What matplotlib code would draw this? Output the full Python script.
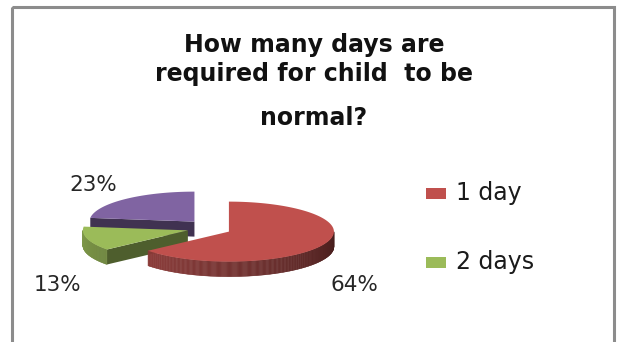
import numpy as np
import matplotlib
matplotlib.use("Agg")
import matplotlib.pyplot as plt
from matplotlib.patches import Polygon, Rectangle

# Chart data
categories = ["1 day", "2 days", "3 days"]
shares = [64, 13, 23]
pct_labels = ["64%", "13%", "23%"]
title_lines = ["How many days are", "required for child  to be", "normal?"]

# Colours (Excel 2007 palette)
top_colors = ["#C0504D", "#9BBB59", "#8064A2"]

# Layout of the fake 3D pie, in pixels
cx, cy = 209, 228
rx, ry = 105, 30
depth = 15
explode_x, explode_y = 22, 8.5
label_pos = [(354, 285), (58, 285), (93, 185)]

fig = plt.figure(figsize=(6.22, 3.42), dpi=100)
ax = fig.add_axes([0, 0, 1, 1])
ax.set_xlim(0, 622)
ax.set_ylim(342, 0)
ax.axis("off")

# chart frame
ax.add_patch(Rectangle((12, 7), 602, 345, fill=False, edgecolor="#8c8c8c",
                       linewidth=2.2))


def shade(color, f):
    r, g, b = matplotlib.colors.to_rgb(color)
    return (r * f, g * f, b * f)


def rim(ax_x, ax_y, t, dz=0.0):
    t = np.radians(t)
    return ax_x + rx * np.cos(t), ax_y - ry * np.sin(t) + dz


# work out slice angles (start at 12 o'clock, go clockwise)
total = float(sum(shares))
slices = []
start = 90.0
for i, v in enumerate(shares):
    sweep = v / total * 360.0
    hi, lo = start, start - sweep
    mid = np.radians((hi + lo) / 2)
    px = cx + explode_x * np.cos(mid)
    py = cy - explode_y * np.sin(mid)
    slices.append((i, lo, hi, px, py, np.sin(mid)))
    start = lo

# back slices first
slices.sort(key=lambda s: -s[5])

for i, lo, hi, px, py, _ in slices:
    col = top_colors[i]
    # visible cut faces
    for t, normal in ((lo, lo - 90), (hi, hi + 90)):
        if np.sin(np.radians(normal)) < -1e-6:
            x1, y1 = rim(px, py, t)
            face = [(px, py), (x1, y1), (x1, y1 + depth), (px, py + depth)]
            ax.add_patch(Polygon(face, closed=True, facecolor=shade(col, 0.5),
                                 edgecolor="none"))
    # outer wall on the front half, drawn in thin strips for shading
    for a0, a1 in ((-180, 0), (180, 360)):
        s0, s1 = max(lo, a0), min(hi, a1)
        if s1 <= s0:
            continue
        ts = np.linspace(s0, s1, int((s1 - s0) * 2) + 2)
        for ta, tb in zip(ts[:-1], ts[1:]):
            u = ((ta + 180) % 360) / 180.0
            f = 0.82 - 0.45 * u
            xa, ya = rim(px, py, ta)
            xb, yb = rim(px, py, tb)
            strip = [(xa, ya), (xb, yb), (xb, yb + depth), (xa, ya + depth)]
            ax.add_patch(Polygon(strip, closed=True, facecolor=shade(col, f),
                                 edgecolor=shade(col, f), linewidth=0.3))
    # top face
    ts = np.linspace(lo, hi, 200)
    pts = [(px, py)] + [rim(px, py, t) for t in ts]
    ax.add_patch(Polygon(pts, closed=True, facecolor=col, edgecolor="none"))

# percentage labels
for (x, y), s in zip(label_pos, pct_labels):
    ax.text(x, y, s, ha="center", va="center", fontsize=15.5,
            family="DejaVu Sans", color="#262626")

# title
for y, line in zip([45, 74, 118], title_lines):
    ax.text(314, y, line, ha="center", va="center", fontsize=17,
            fontweight="bold", family="DejaVu Sans", color="#111111")

# legend: only the first two entries fit in the original chart
for y, name, col in zip([193, 262], categories[:2], top_colors[:2]):
    ax.add_patch(Rectangle((426, y - 5), 20, 11, facecolor=col,
                           edgecolor="none"))
    ax.text(456, y, name, ha="left", va="center", fontsize=17,
            family="DejaVu Sans", color="#1a1a1a")

fig.savefig("out.png", dpi=100)
